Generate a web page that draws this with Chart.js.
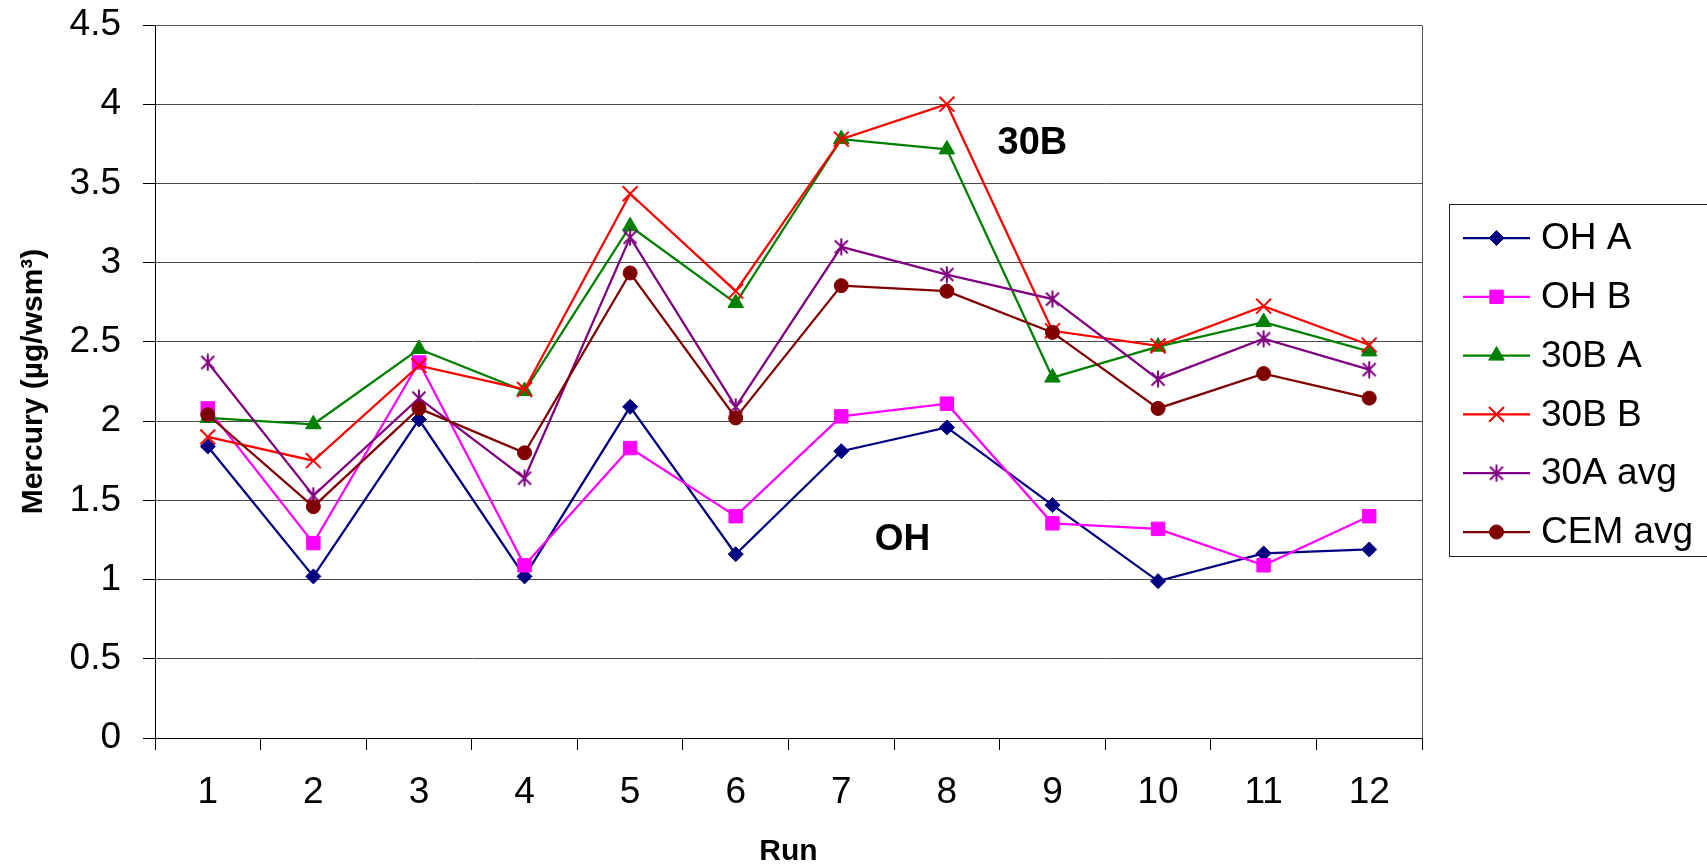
<!DOCTYPE html>
<html>
<head>
<meta charset="utf-8">
<title>Mercury by run</title>
<script src="https://cdn.jsdelivr.net/npm/chart.js@4/dist/chart.umd.min.js"></script>
<style>
  html, body { margin: 0; padding: 0; background: #fff; overflow: hidden; }
  #wrap { width: 1707px; height: 867px; position: relative; }
</style>
</head>
<body>
<div id="wrap"><canvas id="c" width="1707" height="867"></canvas></div>
<script>
// Run numbers along the x axis
const runs = ['1', '2', '3', '4', '5', '6', '7', '8', '9', '10', '11', '12'];

// Mercury readings (µg/wsm³) per run
const ohA    = [1.84, 1.02, 2.01, 1.02, 2.09, 1.16, 1.81, 1.96, 1.47, 0.99, 1.165, 1.19];
const ohB    = [2.08, 1.23, 2.37, 1.09, 1.83, 1.40, 2.03, 2.11, 1.355, 1.32, 1.09, 1.40];
const b30A   = [2.02, 1.98, 2.455, 2.19, 3.23, 2.745, 3.78, 3.715, 2.275, 2.47, 2.625, 2.44];
const b30B   = [1.90, 1.75, 2.35, 2.20, 3.435, 2.82, 3.78, 4.00, 2.57, 2.475, 2.725, 2.48];
const a30Avg = [2.37, 1.53, 2.145, 1.64, 3.16, 2.09, 3.10, 2.925, 2.77, 2.265, 2.52, 2.325];
const cemAvg = [2.04, 1.46, 2.08, 1.80, 2.935, 2.02, 2.855, 2.82, 2.56, 2.08, 2.30, 2.145];

// Y axis tick values
const yTicks = [0, 0.5, 1, 1.5, 2, 2.5, 3, 3.5, 4, 4.5];

const FONT = "'Liberation Sans', Arial, Helvetica, sans-serif";

// Asterisk marker (an X with a vertical bar)
function makeAsterisk(color) {
  const s = 18;
  const cv = document.createElement('canvas');
  cv.width = s; cv.height = s;
  const g = cv.getContext('2d');
  g.strokeStyle = color;
  g.lineWidth = 2;
  g.lineCap = 'butt';
  g.beginPath();
  g.moveTo(2.5, 2.5); g.lineTo(15.5, 15.5);
  g.moveTo(15.5, 2.5); g.lineTo(2.5, 15.5);
  g.moveTo(9, 0.5); g.lineTo(9, 17.5);
  g.stroke();
  return cv;
}

function series(label, data, color, pointStyle, radius, extra) {
  return Object.assign({
    label: label,
    data: data,
    borderColor: color,
    backgroundColor: color,
    pointBackgroundColor: color,
    pointBorderColor: color,
    borderWidth: 2.25,
    pointStyle: pointStyle,
    pointRadius: radius,
    pointBorderWidth: 1,
    tension: 0,
    fill: false
  }, extra || {});
}

const datasets = [
  series('OH A', ohA, '#000080', 'rectRot', 7.5, { order: 6 }),
  series('OH B', ohB, '#FF00FF', 'rect', 9.5, { order: 5 }),
  series('30B A', b30A, '#008000', 'triangle', 9, { order: 4 }),
  series('30B B', b30B, '#FF0000', 'crossRot', 10.5, { order: 3, pointBorderWidth: 2 }),
  series('30A avg', a30Avg, '#800080', makeAsterisk('#800080'), 9, { order: 2 }),
  series('CEM avg', cemAvg, '#800000', 'circle', 7, { order: 1 })
];

// Plot frame, in-plot notes and the boxed legend on the right
const decorations = {
  id: 'decorations',
  beforeDatasetsDraw(chart) {
    const { ctx, chartArea: a } = chart;
    ctx.save();
    ctx.strokeStyle = '#555';
    ctx.lineWidth = 1;
    ctx.beginPath();
    ctx.moveTo(a.left, a.top + 0.5);
    ctx.lineTo(a.right + 0.5, a.top + 0.5);
    ctx.lineTo(a.right + 0.5, a.bottom);
    ctx.stroke();
    ctx.restore();
  },
  afterDraw(chart) {
    const { ctx, scales } = chart;
    ctx.save();

    // notes inside the plot
    ctx.fillStyle = '#000';
    ctx.textAlign = 'center';
    ctx.textBaseline = 'middle';
    ctx.font = 'bold 38px ' + FONT;
    ctx.fillText('30B', scales.x.getPixelForValue(7.81), scales.y.getPixelForValue(3.75));
    ctx.font = 'bold 37px ' + FONT;
    ctx.fillText('OH', scales.x.getPixelForValue(6.58), scales.y.getPixelForValue(1.25));

    // legend box
    const bx = 1449.5, by = 204.5, bw = 300, bh = 352;
    ctx.fillStyle = '#fff';
    ctx.fillRect(bx, by, bw, bh);
    ctx.strokeStyle = '#222';
    ctx.lineWidth = 1;
    ctx.strokeRect(bx, by, bw, bh);

    const x0 = 1463, x1 = 1530, xm = (x0 + x1) / 2, tx = 1541;
    const y0 = 238, dy = 58.8;
    chart.data.datasets.forEach((ds, i) => {
      const y = y0 + i * dy;
      ctx.strokeStyle = ds.borderColor;
      ctx.lineWidth = ds.borderWidth;
      ctx.beginPath();
      ctx.moveTo(x0, y);
      ctx.lineTo(x1, y);
      ctx.stroke();
      ctx.fillStyle = ds.pointBackgroundColor;
      ctx.strokeStyle = ds.pointBorderColor;
      ctx.lineWidth = ds.pointBorderWidth;
      Chart.helpers.drawPoint(ctx, {
        pointStyle: ds.pointStyle,
        rotation: 0,
        radius: ds.pointRadius,
        borderWidth: ds.pointBorderWidth
      }, xm, y);
      ctx.fillStyle = '#000';
      ctx.textAlign = 'left';
      ctx.textBaseline = 'middle';
      ctx.font = '37px ' + FONT;
      ctx.fillText(ds.label, tx, y + 1);
    });
    ctx.restore();
  }
};

new Chart(document.getElementById('c'), {
  type: 'line',
  data: { labels: runs, datasets: datasets },
  plugins: [decorations],
  options: {
    responsive: false,
    animation: false,
    events: [],
    devicePixelRatio: 1,
    layout: { padding: { left: 0, top: 25, right: 285, bottom: 0 } },
    plugins: {
      legend: { display: false },
      tooltip: { enabled: false },
      title: { display: false }
    },
    scales: {
      x: {
        type: 'category',
        offset: true,
        grid: {
          offset: true,
          drawOnChartArea: false,
          drawTicks: true,
          tickLength: 12,
          tickColor: '#000',
          tickWidth: 1
        },
        border: { display: true, color: '#000', width: 1 },
        ticks: {
          color: '#000',
          font: { family: FONT, size: 37, lineHeight: 1.2 },
          padding: 21,
          maxRotation: 0,
          autoSkip: false
        },
        title: {
          display: true,
          text: 'Run',
          color: '#000',
          font: { family: FONT, size: 30, weight: 'bold', lineHeight: 1 },
          padding: { top: -2, bottom: 0 }
        },
        afterFit(scale) {
          scale.height = 129;
          scale.paddingLeft = 0;
          scale.paddingRight = 0;
        }
      },
      y: {
        min: 0,
        max: 4.5,
        afterBuildTicks(scale) { scale.ticks = yTicks.map(v => ({ value: v })); },
        grid: {
          color: '#4a4a4a',
          lineWidth: 1,
          drawTicks: true,
          tickLength: 12,
          tickColor: '#000',
          tickWidth: 1
        },
        border: { display: true, color: '#000', width: 1 },
        ticks: {
          color: '#000',
          font: { family: FONT, size: 37, lineHeight: 1.2 },
          padding: 22,
          callback: (v) => String(v)
        },
        title: {
          display: true,
          text: 'Mercury (µg/wsm³)',
          color: '#000',
          font: { family: FONT, size: 30, weight: 'bold', lineHeight: 1 },
          padding: { top: 19, bottom: 0 }
        },
        afterFit(scale) {
          scale.width = 155;
          scale.paddingTop = 0;
          scale.paddingBottom = 0;
        }
      }
    }
  }
});
</script>
</body>
</html>
